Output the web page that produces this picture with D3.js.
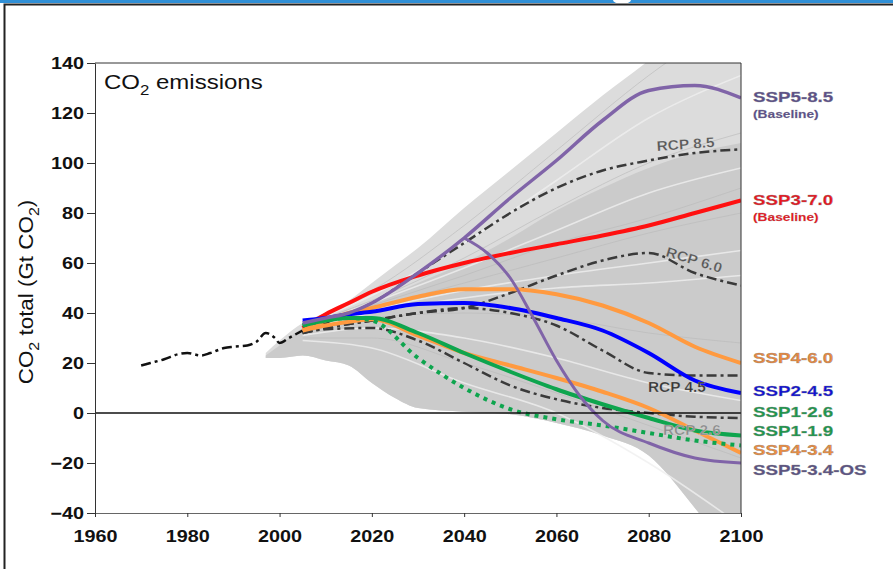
<!DOCTYPE html>
<html>
<head>
<meta charset="utf-8">
<script src="https://cdn.jsdelivr.net/npm/d3@7"></script>
<style>
  body { margin: 0; background: #fff; }
  svg { display: block; }
  text { font-family: "Liberation Sans", Arial, sans-serif; }
</style>
</head>
<body>
<svg id="chart" width="893" height="569"></svg>
<script>
// ---- Axis ticks ----
const xTicks = [1960, 1980, 2000, 2020, 2040, 2060, 2080, 2100];
const yTicks = [-40, -20, 0, 20, 40, 60, 80, 100, 120, 140];

// ---- Historical emissions (Gt CO2) ----
const histYears = [1970, 1972, 1975, 1978, 1980, 1983, 1985, 1988, 1990, 1993, 1995, 1997, 1999, 2000, 2002, 2005];
const histValues = [19, 20, 21.5, 23.5, 24, 23, 24, 26, 26.5, 27, 28.5, 32, 30, 28, 30, 33];

// ---- Scenario literature range (envelope of all pathways) ----
const envYears = [1997, 2000, 2005, 2010, 2015, 2020, 2025, 2030, 2040, 2050, 2060, 2070, 2080, 2090, 2100];
const envUpper = [24, 29, 36, 40, 45, 52, 59, 66, 82, 97, 112, 127, 141, 156, 170];
const envLower = [22, 22, 23, 21, 19, 12, 6, 2, 0.5, -0.5, -4, -9, -17, -38, -62];
const envCore  = [23, 27, 34, 37, 40, 44, 48, 52, 60, 70, 81, 90, 98, 104, 108];

// ---- A sample of individual pathways from the range ----
const bgYears = [2005, 2020, 2040, 2060, 2080, 2100];
const bgPaths = [
  [36, 49, 75, 105, 135, 160],
  [35, 47, 68, 93, 118, 135],
  [35, 45, 62, 82, 100, 112],
  [34, 44, 58, 73, 88, 98],
  [34, 43, 55, 68, 78, 90],
  [33, 41, 49, 55, 60, 65],
  [34, 42, 52, 62, 72, 80],
  [33, 40, 46, 50, 52, 55],
  [32, 38, 40, 38, 32, 28],
  [31, 34, 30, 22, 12, 5],
  [30, 30, 20, 8, -5, -18],
  [29, 26, 12, 0, -20, -45]
];

// ---- SSP marker scenarios ----
const sspYears = [2005, 2010, 2015, 2020, 2030, 2040, 2050, 2060, 2070, 2080, 2090, 2100];
const ssp585 = [36, 38, 40, 44, 56, 70, 86, 101, 117, 129, 131, 126];
const ssp370 = [34, 39.5, 44, 48.5, 55, 60, 64, 67.5, 71, 75, 80, 85];
const ssp460 = [33, 37, 40, 42, 46.5, 49.5, 49.5, 47.5, 43, 36, 26.5, 20];
const ssp245 = [37, 38, 39.5, 40.5, 43.6, 44, 42, 38, 33, 24, 13, 8];
const ssp126 = [35, 37, 38, 38, 32, 24, 16.5, 9.5, 3.5, -2, -7, -9];
const ssp434 = [33, 35, 36.5, 37.5, 31, 24, 19, 14, 8.5, 2, -7, -16];
const ssp119 = [35, 37, 38, 37, 22, 10, 1.5, -2.5, -5, -8, -11, -13];
// SSP5-3.4-OS follows SSP5-8.5 until 2040, then departs
const osYears = [2005, 2010, 2015, 2020, 2030, 2040, 2045, 2050, 2055, 2060, 2065, 2070, 2080, 2090, 2100];
const ssp534os = [36, 38, 40, 44, 56, 70, 64, 54, 38, 21, 7, -3, -12, -18, -20];
const osSplitYear = 2040;

// ---- RCP pathways ----
const rcpYears = [2005, 2010, 2020, 2030, 2040, 2050, 2060, 2070, 2080, 2090, 2100];
const rcp85 = [32, 36, 44, 56, 68, 80, 90, 97, 101, 104, 105.5];
const rcp60 = [32, 34, 37, 40, 42, 48, 55, 61, 64, 56, 51];
const rcp45 = [32, 34, 37, 40, 42, 40, 35, 25, 16, 15, 15];
const rcp26 = [32, 33.5, 34, 29, 20, 11, 5.5, 2, 0, -1.5, -2];

// ---- Labels ----
const sspLabels = [
  { text: "SSP5-8.5", sub: "(Baseline)", color: "#5b4f8c", dy: 97 },
  { text: "SSP3-7.0", sub: "(Baseline)", color: "#ee1520", dy: 200 },
  { text: "SSP4-6.0", color: "#ec8a3e", dy: 358 },
  { text: "SSP2-4.5", color: "#1010d8", dy: 391 },
  { text: "SSP1-2.6", color: "#1b9a4c", dy: 412 },
  { text: "SSP1-1.9", color: "#1b9a4c", dy: 431 },
  { text: "SSP4-3.4", color: "#f08e40", dy: 450 },
  { text: "SSP5-3.4-OS", color: "#5b5285", dy: 470 }
];
const rcpLabels = [
  { text: "RCP 8.5", x: 657, y: 151, rot: -4, color: "#555" },
  { text: "RCP 6.0", x: 665, y: 256, rot: 17, color: "#555" },
  { text: "RCP 4.5", x: 648, y: 392, rot: 0, color: "#333" },
  { text: "RCP 2.6", x: 663, y: 435, rot: 0, color: "#8a8a8a" }
];

const SX = 1.2; // horizontal text stretch

const svg = d3.select("#chart");
const x = d3.scaleLinear().domain([1960, 2100]).range([95, 741]);
const y = d3.scaleLinear().domain([-40, 140]).range([513, 63]);

// page frame
svg.append("rect").attr("x", 0).attr("y", 0).attr("width", 893).attr("height", 3).attr("fill", "#2f8fd6");
svg.append("ellipse").attr("cx", 622).attr("cy", 0).attr("rx", 9).attr("ry", 4).attr("fill", "#fff");
svg.append("path").attr("d", "M4.5,569V4.5H893").attr("fill", "none").attr("stroke", "#222").attr("stroke-width", 2);

svg.append("clipPath").attr("id", "plotclip")
  .append("rect").attr("x", x(1960)).attr("y", y(140))
  .attr("width", x(2100) - x(1960)).attr("height", y(-40) - y(140));

const plot = svg.append("g").attr("clip-path", "url(#plotclip)");

// envelope of pathways
const envData = envYears.map((yr, i) => ({ yr, up: envUpper[i], lo: envLower[i], core: envCore[i] }));
const area = d3.area().x(d => x(d.yr)).curve(d3.curveMonotoneX);
plot.append("path").datum(envData)
  .attr("d", area.y0(d => y(d.lo)).y1(d => y(d.up)))
  .attr("fill", "#dcdcdc");
plot.append("path").datum(envData)
  .attr("d", area.y0(d => y(d.lo)).y1(d => y(d.core)))
  .attr("fill", "#cbcbcb");

const line = d3.line().curve(d3.curveMonotoneX);
const mk = (years, vals) => years.map((yr, i) => [yr, vals[i]]).map(([yr, v]) => [x(yr), y(v)]);

bgPaths.forEach((vals, i) => {
  plot.append("path").attr("d", line(mk(bgYears, vals)))
    .attr("fill", "none")
    .attr("stroke", i % 2 ? "#efefef" : "#b9b9b9")
    .attr("stroke-width", i % 2 ? 1.6 : 0.8)
    .attr("opacity", 0.8);
});

// zero line
svg.append("line").attr("x1", x(1960)).attr("x2", x(2100)).attr("y1", y(0)).attr("y2", y(0))
  .attr("stroke", "#111").attr("stroke-width", 1.5);

// RCP pathways
const dashDot = "10,4,3,4";
[rcp85, rcp60, rcp45, rcp26].forEach(vals => {
  plot.append("path").attr("d", line(mk(rcpYears, vals)))
    .attr("fill", "none").attr("stroke", "#3a3a3a").attr("stroke-width", 2.5)
    .attr("stroke-dasharray", dashDot);
});

// historical
plot.append("path").attr("d", line(mk(histYears, histValues)))
  .attr("fill", "none").attr("stroke", "#111").attr("stroke-width", 2.5)
  .attr("stroke-dasharray", dashDot);

// SSP markers
const osPts = osYears.map((yr, i) => [yr, ssp534os[i]]).filter(p => p[0] >= osSplitYear);
const ssp = [
  { pts: mk(sspYears, ssp370), color: "#ff1010", w: 4 },
  { pts: mk(sspYears, ssp460), color: "#ff9a40", w: 4 },
  { pts: mk(sspYears, ssp245), color: "#0000ff", w: 4 },
  { pts: mk(sspYears, ssp434), color: "#ff9a40", w: 4 },
  { pts: mk(sspYears, ssp126), color: "#0ea54e", w: 4 },
  { pts: mk(sspYears, ssp119), color: "#0ea54e", w: 4, dash: "4,5" },
  { pts: mk(sspYears, ssp585), color: "#8064a8", w: 3.5 },
  { pts: osPts.map(([yr, v]) => [x(yr), y(v)]), color: "#8064a8", w: 3 }
];
ssp.forEach(s => {
  plot.append("path").attr("d", line(s.pts))
    .attr("fill", "none").attr("stroke", s.color).attr("stroke-width", s.w)
    .attr("stroke-dasharray", s.dash || null);
});

// axes + frame
const axisColor = "#333";
svg.append("line").attr("x1", x(1960)).attr("x2", x(2100)).attr("y1", y(140)).attr("y2", y(140)).attr("stroke", axisColor);
svg.append("line").attr("x1", x(2100)).attr("x2", x(2100)).attr("y1", y(140)).attr("y2", y(-40)).attr("stroke", axisColor);

const gx = svg.append("g").attr("transform", `translate(0,${y(-40)})`)
  .call(d3.axisBottom(x).tickValues(xTicks).tickFormat(d3.format("d")).tickSize(4).tickPadding(13).tickSizeOuter(0));
const gy = svg.append("g").attr("transform", `translate(${x(1960)},0)`)
  .call(d3.axisLeft(y).tickValues(yTicks).tickSize(8).tickPadding(3).tickSizeOuter(0));
gx.select(".domain").attr("stroke", "#666");
gy.select(".domain").attr("stroke", axisColor);
[gx, gy].forEach(g => {
  g.selectAll(".tick line").attr("stroke", axisColor);
  g.selectAll("text").attr("font-size", 16.5).attr("font-weight", "bold")
    .attr("fill", "#111").attr("font-family", '"Liberation Sans", Arial, sans-serif');
});
gx.selectAll("text").attr("transform", `scale(${SX},1)`);
gy.selectAll("text").attr("x", -11 / SX).attr("transform", `scale(${SX},1)`);

// y-axis title
const yl = svg.append("text")
  .attr("transform", `translate(33,292) scale(1.15,1.28) rotate(-90)`)
  .attr("text-anchor", "middle").attr("font-size", 17.5).attr("fill", "#111");
yl.append("tspan").text("CO");
yl.append("tspan").text("2").attr("font-size", 12.5).attr("dy", 5);
yl.append("tspan").text(" total (Gt CO").attr("dy", -5);
yl.append("tspan").text("2").attr("font-size", 12.5).attr("dy", 5);
yl.append("tspan").text(")").attr("dy", -5);

// panel title
const tt = svg.append("text").attr("transform", `translate(104,89) scale(${SX},1)`)
  .attr("font-size", 20).attr("fill", "#111");
tt.append("tspan").text("CO");
tt.append("tspan").text("2").attr("font-size", 14).attr("dy", 6);
tt.append("tspan").text(" emissions").attr("dy", -6);

// RCP labels
rcpLabels.forEach(l => {
  svg.append("text").attr("transform", `translate(${l.x},${l.y}) rotate(${l.rot}) scale(1.1,1)`)
    .attr("font-size", 14).attr("font-weight", "bold").attr("fill", l.color)
    .attr("stroke", "#fff").attr("stroke-opacity", 0.35).attr("stroke-width", 0.6)
    .text(l.text);
});

// SSP labels on the right
sspLabels.forEach(l => {
  const g = svg.append("g").attr("transform", `translate(753,${l.dy}) scale(1.25,1)`);
  g.append("text").attr("dy", "0.36em").attr("font-size", 15).attr("font-weight", "bold")
    .attr("fill", l.color).attr("stroke", "#777").attr("stroke-width", 0.5).attr("stroke-opacity", 0.6)
    .text(l.text);
  if (l.sub) {
    g.append("text").attr("y", 17).attr("dy", "0.36em").attr("font-size", 11).attr("font-weight", "bold")
      .attr("fill", l.color).attr("stroke", "#777").attr("stroke-width", 0.3).attr("stroke-opacity", 0.6)
      .text(l.sub);
  }
});
</script>
</body>
</html>
